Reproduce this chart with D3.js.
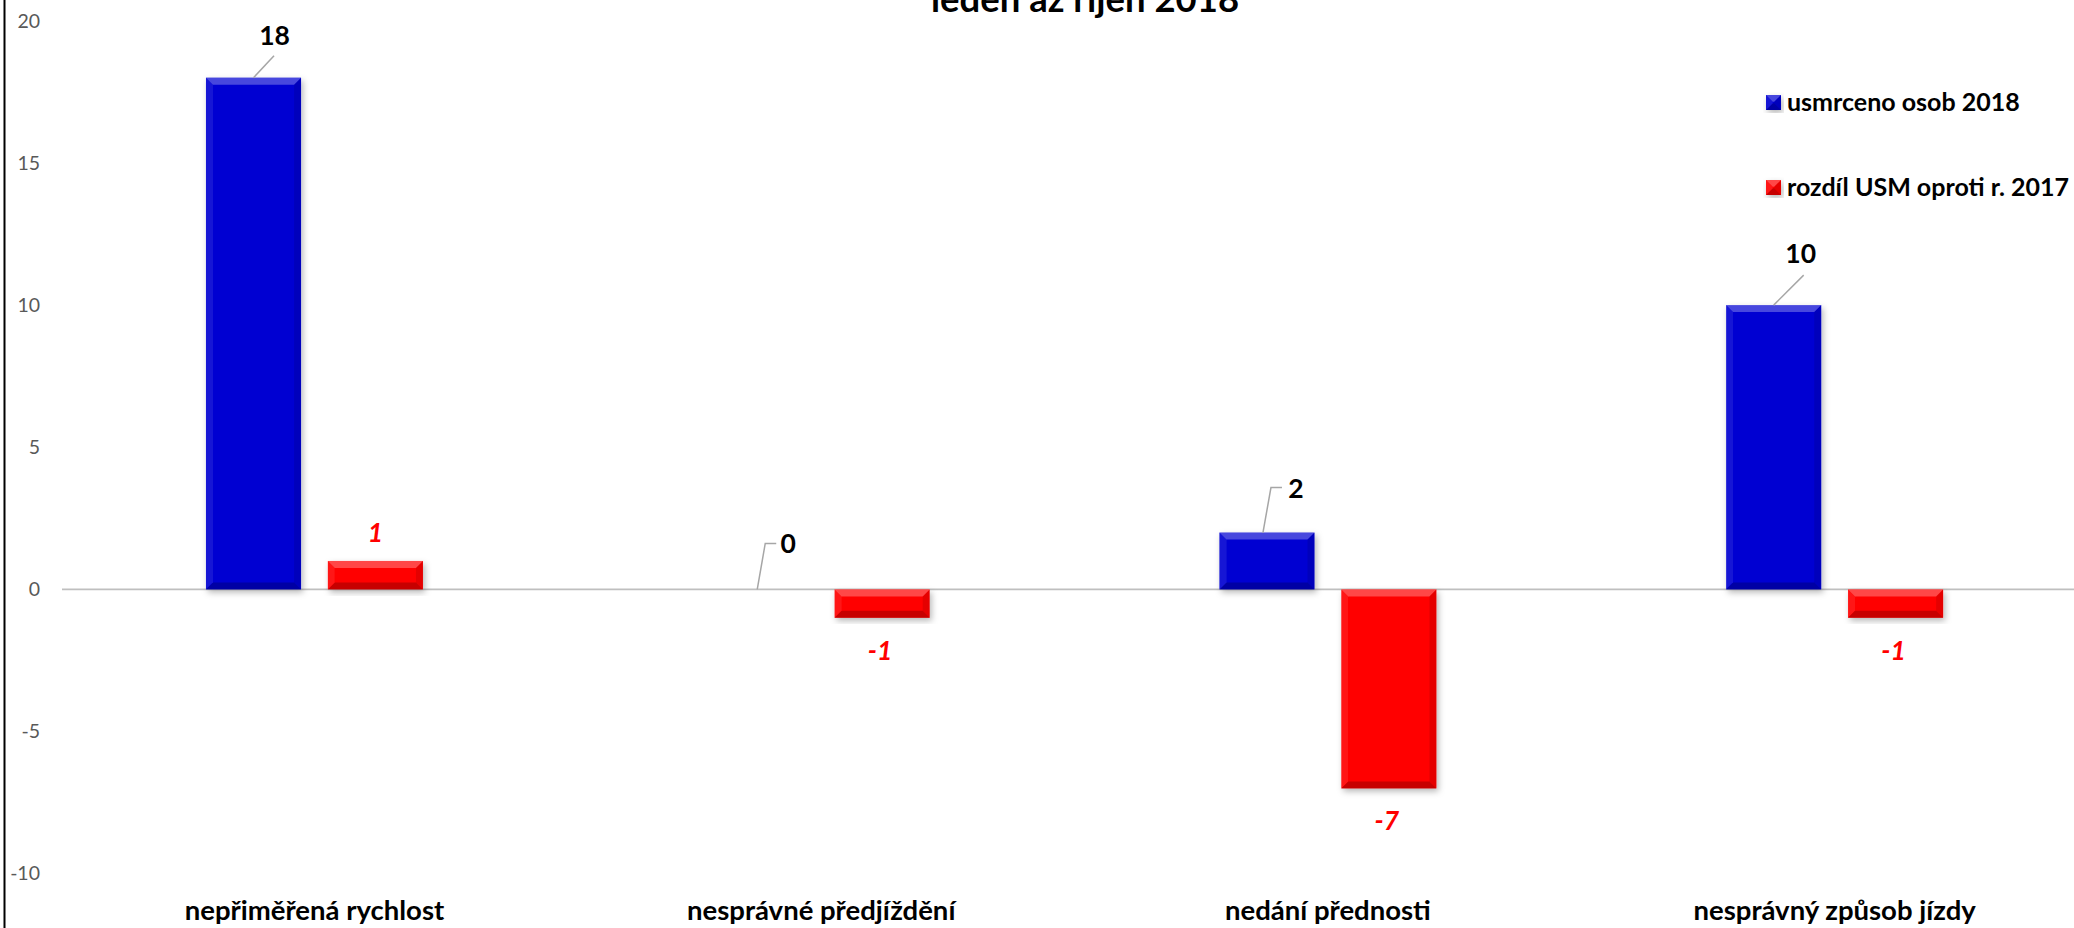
<!DOCTYPE html>
<html>
<head>
<meta charset="utf-8">
<script src="https://cdn.jsdelivr.net/npm/d3@7"></script>
<style>
  html, body { margin: 0; padding: 0; background: #ffffff; overflow: hidden; }
  svg { display: block; font-family: Lato, "Open Sans", sans-serif; }
</style>
</head>
<body>
<svg id="chart" width="2074" height="928"></svg>
<script>
// ---- data ----
const categories = ["nepřiměřená rychlost", "nesprávné předjíždění", "nedání přednosti", "nesprávný způsob jízdy"];
const seriesNames = ["usmrceno osob 2018", "rozdíl USM oproti r. 2017"];
const killed2018 = [18, 0, 2, 10];
const diffVs2017 = [1, -1, -7, -1];
const yTicks = [-10, -5, 0, 5, 10, 15, 20];
const titleText = "leden až říjen 2018";

// ---- layout / style ----
const W = 2074, H = 928;
const colors = ["#0000d2", "#ff0000"];
const fmt = d3.formatLocale({ decimal: ".", thousands: " ", grouping: [3], currency: ["", ""], minus: "-" }).format("d");
const svg = d3.select("#chart");

const defs = svg.append("defs");
const shadow = defs.append("filter").attr("id", "shadow")
  .attr("x", "-20%").attr("y", "-20%").attr("width", "140%").attr("height", "140%");
shadow.append("feDropShadow").attr("dx", 2).attr("dy", 3).attr("stdDeviation", 3)
  .attr("flood-color", "#000").attr("flood-opacity", 0.28);

const y = d3.scaleLinear().domain([-10, 20]).range([873.7, 20.8]);
const x0 = d3.scaleBand().domain(categories).range([61.1, 2088]).paddingInner(0.5718).paddingOuter(0.2859);
const x1 = d3.scaleBand().domain(seriesNames).range([0, x0.bandwidth()]).paddingInner(0.22);

// left border
svg.append("line").attr("x1", 4.5).attr("x2", 4.5).attr("y1", 0).attr("y2", H)
  .attr("stroke", "#000").attr("stroke-width", 2);

// title (partially cut off at top, as in the reference)
svg.append("text").attr("x", 1085).attr("y", 12).attr("text-anchor", "middle")
  .attr("font-weight", 700).attr("font-size", 36.5).attr("fill", "#000").text(titleText);

// y axis labels
const yAxis = d3.axisLeft(y).tickValues(yTicks).tickSize(0).tickPadding(0).tickFormat(fmt);
const gy = svg.append("g").attr("transform", "translate(40,0)").call(yAxis);
gy.select(".domain").remove();
gy.selectAll("text").attr("font-family", "Lato, sans-serif").attr("font-size", 19.5).attr("fill", "#595959");

// zero line
svg.append("line").attr("x1", 62).attr("x2", W).attr("y1", y(0)).attr("y2", y(0))
  .attr("stroke", "#bfbfbf").attr("stroke-width", 1.6);

// bevelled bar helper
function bevelBar(g, bx, by, bw, bh, color) {
  const b = Math.min(7, bh / 2.2, bw / 2.2);
  const gg = g.append("g").attr("filter", "url(#shadow)");
  gg.append("rect").attr("x", bx).attr("y", by).attr("width", bw).attr("height", bh).attr("fill", color);
  const pts = (arr) => arr.map(p => p.join(",")).join(" ");
  const x2 = bx + bw, y2 = by + bh;
  gg.append("polygon").attr("points", pts([[bx, by], [x2, by], [x2 - b, by + b], [bx + b, by + b]]))
    .attr("fill", "#fff").attr("fill-opacity", 0.28);
  gg.append("polygon").attr("points", pts([[bx, by], [bx + b, by + b], [bx + b, y2 - b], [bx, y2]]))
    .attr("fill", "#fff").attr("fill-opacity", 0.08);
  gg.append("polygon").attr("points", pts([[x2, by], [x2, y2], [x2 - b, y2 - b], [x2 - b, by + b]]))
    .attr("fill", "#000").attr("fill-opacity", 0.1);
  gg.append("polygon").attr("points", pts([[bx, y2], [x2, y2], [x2 - b, y2 - b], [bx + b, y2 - b]]))
    .attr("fill", "#000").attr("fill-opacity", 0.22);
}

const barsG = svg.append("g");
const seriesData = [killed2018, diffVs2017];
categories.forEach((c, i) => {
  seriesData.forEach((vals, s) => {
    const v = vals[i];
    if (v === 0) return;
    const bx = x0(c) + x1(seriesNames[s]);
    const top = y(Math.max(0, v)), bot = y(Math.min(0, v));
    bevelBar(barsG, bx, top, x1.bandwidth(), bot - top, colors[s]);
  });
});

// data labels for series 1 (with leader lines), offsets relative to bar top center
const leaderNudges = [
  { lx: 20.5, ly: -22, tx: 21, ty: -33, elbow: false },
  { lx: 8, ly: -46, tx: 31, ty: -36, elbow: true },
  { lx: 8, ly: -45, tx: 33, ty: -35, elbow: true },
  { lx: 30, ly: -30, tx: 27, ty: -42, elbow: false }
];
const labG = svg.append("g");
categories.forEach((c, i) => {
  const v = killed2018[i];
  const cx = x0(c) + x1(seriesNames[0]) + x1.bandwidth() / 2 - (v === 0 ? 3 : 0) - (i === 2 ? 4 : 0);
  const ty0 = y(v);
  const n = leaderNudges[i];
  let path = `M${cx},${ty0} L${cx + n.lx},${ty0 + n.ly}`;
  if (n.elbow) path += ` l11,0`;
  labG.append("path").attr("d", path).attr("fill", "none").attr("stroke", "#a6a6a6").attr("stroke-width", 1.5);
  labG.append("text").attr("x", cx + n.tx).attr("y", ty0 + n.ty)
    .attr("text-anchor", "middle").attr("font-weight", 700).attr("font-size", 26.5).attr("fill", "#000")
    .text(fmt(v));
});

// data labels for series 2
categories.forEach((c, i) => {
  const v = diffVs2017[i];
  const cx = x0(c) + x1(seriesNames[1]) + x1.bandwidth() / 2 - (i === 0 ? 0 : 2);
  const ty = v >= 0 ? y(v) - 19 : y(v) + 42;
  labG.append("text").attr("x", cx).attr("y", ty)
    .attr("text-anchor", "middle").attr("font-weight", 700).attr("font-style", "italic")
    .attr("font-size", 26.5).attr("fill", "#ff0000").text(fmt(v));
});

// category labels
svg.append("g").selectAll("text").data(categories).join("text")
  .attr("x", d => x0(d) + x0.bandwidth() / 2).attr("y", 920)
  .attr("text-anchor", "middle").attr("font-weight", 700).attr("font-size", 27.5).attr("fill", "#000")
  .text(d => d);

// legend
const legG = svg.append("g");
seriesNames.forEach((name, s) => {
  const ly = 95 + s * 85;
  bevelBar(legG, 1766, ly, 15, 15, colors[s]);
  legG.append("text").attr("x", 1787).attr("y", ly + 16)
    .attr("font-weight", 700).attr("font-size", 25).attr("fill", "#000").text(name);
});
</script>
</body>
</html>
